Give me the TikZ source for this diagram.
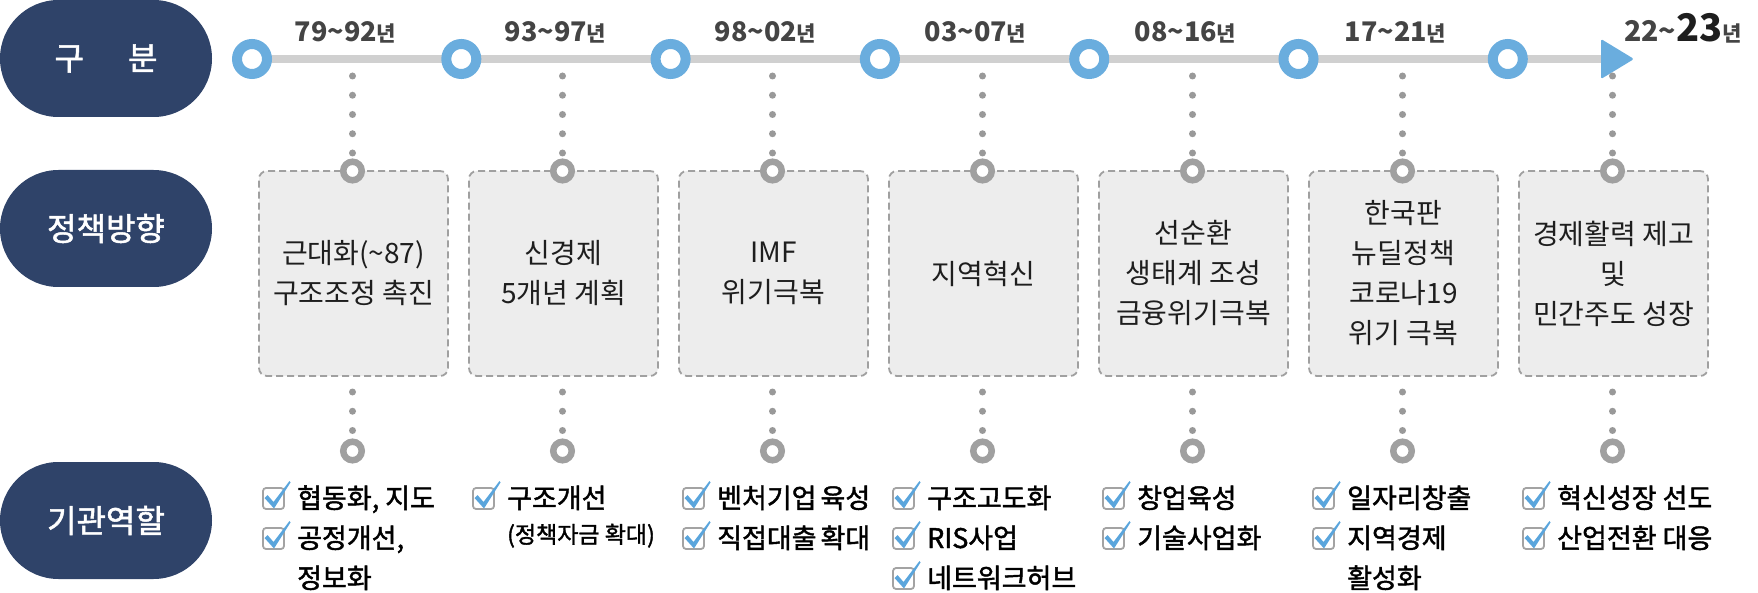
\documentclass[tikz,border=0pt]{standalone}
\usepackage{fontspec}
\setmainfont{Noto Sans CJK KR}
\newfontfamily\krmed{Noto Sans CJK KR}[FakeBold=1.6]
\usetikzlibrary{shapes.misc,calc}
\definecolor{navy}{HTML}{2F4369}
\definecolor{tlblue}{HTML}{6AADDE}
\definecolor{tlgray}{HTML}{D0D0D0}
\definecolor{dotgray}{HTML}{999999}
\definecolor{ringgray}{HTML}{A0A0A0}
\definecolor{boxfill}{HTML}{EDEDED}
\definecolor{boxline}{HTML}{A0A0A0}
\definecolor{chkgray}{HTML}{A3A3A3}
\definecolor{checkblue}{HTML}{5AA5DC}
\definecolor{txt}{HTML}{1E1E1E}
\definecolor{yrgray}{HTML}{444444}
\newcommand\tld{\textasciitilde}
\newcommand\nyear{{\fontsize{21}{21}\selectfont 년}}
\newcommand\itemfont{\krmed\fontsize{27}{27}\selectfont}
\newcommand\chkitem[3]{%
  \node[chk] (#1) at (#2) {};
  \pic at (#1) {chkm};
  \node[item] (#1t) at ($(#1)+(23.5,9.5)$) {#3};
}
\begin{document}
\begin{tikzpicture}[x=1pt,y=-1pt,
  pill/.style={rounded rectangle, fill=navy, minimum width=212, minimum height=117, inner sep=0, text=white, font=\krmed\fontsize{32}{32}\selectfont},
  tlnode/.style={circle, draw=tlblue, line width=10, fill=white, minimum size=30, inner sep=0},
  ring/.style={circle, draw=ringgray, line width=6.5, fill=white, minimum size=18.5, inner sep=0},
  polbox/.style={rectangle, rounded corners=8, fill=boxfill, draw=boxline, line width=1.8, dash pattern=on 7 off 4, minimum width=189, minimum height=205, inner sep=0, align=center, font=\fontsize{28}{40}\selectfont, text=txt},
  dotline/.style={dotgray, line width=7, line cap=round, dash pattern=on 0 off 19.25},
  yr/.style={anchor=base, font=\bfseries\fontsize{27}{27}\selectfont, text=yrgray, inner sep=0},
  chk/.style={rectangle, rounded corners=3, draw=chkgray, line width=1.8, fill=white, minimum size=21, inner sep=0},
  item/.style={anchor=base west, inner sep=0, font=\itemfont, text=black},
  chkm/.pic={\fill[checkblue] (-9,-0.5) -- (-6,-3.5) -- (0,3.5) -- (16,-17.5) -- (17,-16) -- (0.5,10) -- cycle;},
]
\useasboundingbox (0,0) rectangle (1758,593);

% header pills
\node[pill] (h1) at (106,58.5) {구\hspace{44pt}분};
\node[pill] (h2) at (106,228.5) {정책방향};
\node[pill] (h3) at (106,520.5) {기관역할};

% timeline
\foreach \i in {0,...,6} \coordinate (tc\i) at ({252+209.3*\i},59);
\coordinate (tend) at (1603,59);
\draw[tlgray, line width=8] (tc0) -- (tend);
\fill[tlblue, rounded corners=1.5] (1601,39) -- (1634,59) -- (1601,79) -- cycle;
\foreach \i in {0,...,6} \node[tlnode] (t\i) at (tc\i) {};

% year labels
\node[yr] (y0) at (345.5,42) {79\tld92\nyear};
\node[yr] (y1) at (555.5,42) {93\tld97\nyear};
\node[yr] (y2) at (765.5,42) {98\tld02\nyear};
\node[yr] (y3) at (975.5,42) {03\tld07\nyear};
\node[yr] (y4) at (1185.5,42) {08\tld16\nyear};
\node[yr] (y5) at (1395.5,42) {17\tld21\nyear};
\node[yr, anchor=base west] (y6) at (1624,42) {{\fontsize{28.5}{28.5}\selectfont 22\tld}{\fontsize{38}{38}\selectfont\color{txt}23}\nyear};

% policy boxes
\node[polbox] (b0) at (353.5,273.5) {근대화(\tld87)\\구조조정 촉진};
\node[polbox] (b1) at (563.5,273.5) {신경제\\5개년 계획};
\node[polbox] (b2) at (773.5,273.5) {IMF\\위기극복};
\node[polbox] (b3) at (983.5,273.5) {지역혁신};
\node[polbox] (b4) at (1193.5,273.5) {선순환\\생태계 조성\\금융위기극복};
\node[polbox] (b5) at (1403.5,273.5) {한국판\\뉴딜정책\\코로나19\\위기 극복};
\node[polbox] (b6) at (1613.5,273.5) {경제활력 제고\\및\\민간주도 성장};

% dotted connectors and rings
\foreach \i in {0,...,6}{
  \pgfmathsetmacro\cx{352.5+210*\i}
  \coordinate (da\i) at (\cx,76);
  \coordinate (db\i) at (\cx,392);
  \node[ring] (ra\i) at (\cx,171) {};
  \node[ring] (rb\i) at (\cx,451) {};
  \draw[dotline] (da\i) -- (ra\i.north);
  \draw[dotline] (db\i) -- (rb\i.north);
}

% roles
\chkitem{c00}{273.5,498.5}{협동화, 지도}
\chkitem{c01}{273.5,538.5}{공정개선,}
\node[item] (c02t) at (297,588) {정보화};
\chkitem{c10}{483.5,498.5}{구조개선}
\node[item, font=\krmed\fontsize{23}{23}\selectfont] (c11t) at (507,543) {(정책자금 확대)};
\chkitem{c20}{693.5,498.5}{벤처기업\hspace{4pt}육성}
\chkitem{c21}{693.5,538.5}{직접대출\hspace{4pt}확대}
\chkitem{c30}{903.5,498.5}{구조고도화}
\chkitem{c31}{903.5,538.5}{RIS사업}
\chkitem{c32}{903.5,578.5}{네트워크허브}
\chkitem{c40}{1113.5,498.5}{창업육성}
\chkitem{c41}{1113.5,538.5}{기술사업화}
\chkitem{c50}{1323.5,498.5}{일자리창출}
\chkitem{c51}{1323.5,538.5}{지역경제}
\node[item] (c52t) at (1347,588) {활성화};
\chkitem{c60}{1533.5,498.5}{혁신성장 선도}
\chkitem{c61}{1533.5,538.5}{산업전환 대응}
\end{tikzpicture}
\end{document}
